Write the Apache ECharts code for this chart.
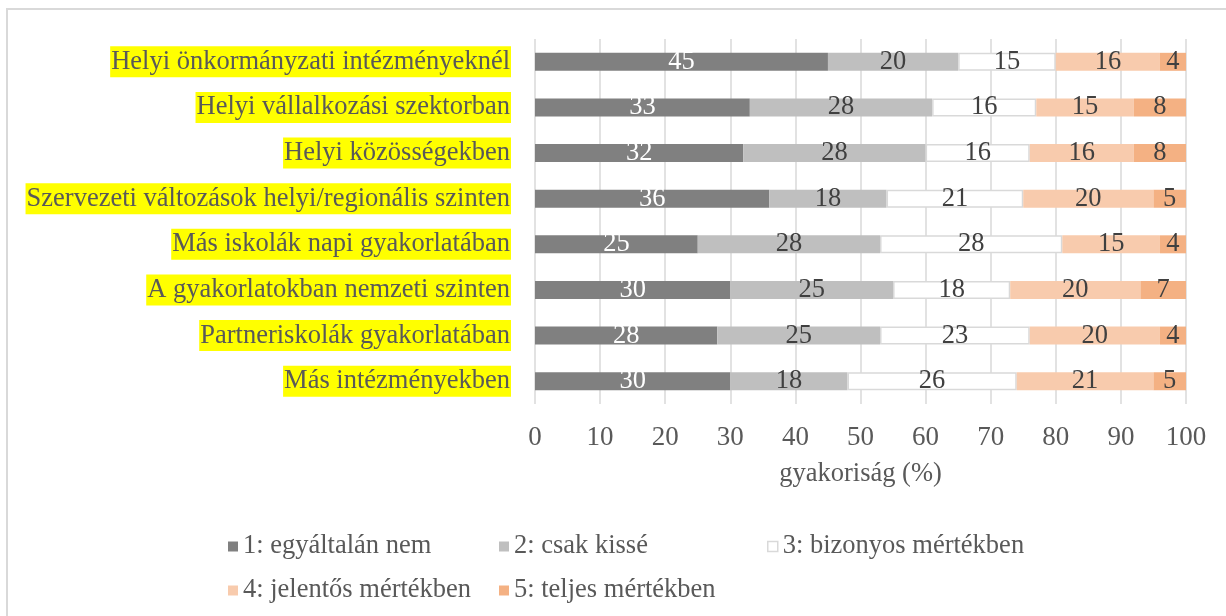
<!DOCTYPE html>
<html>
<head>
<meta charset="utf-8">
<script src="https://cdn.jsdelivr.net/npm/echarts@6/dist/echarts.min.js"></script>
<style>
  html, body { margin: 0; padding: 0; background: #fff; }
  #main { width: 1226px; height: 616px; }
</style>
</head>
<body>
<div id="main"></div>
<script>
// kategóriák (fentről lefelé)
var categories = [
  'Helyi önkormányzati intézményeknél',
  'Helyi vállalkozási szektorban',
  'Helyi közösségekben',
  'Szervezeti változások helyi/regionális szinten',
  'Más iskolák napi gyakorlatában',
  'A gyakorlatokban nemzeti szinten',
  'Partneriskolák gyakorlatában',
  'Más intézményekben'
]
var seriesNames = [
  '1: egyáltalán nem',
  '2: csak kissé',
  '3: bizonyos mértékben',
  '4: jelentős mértékben',
  '5: teljes mértékben'
]
var s1 = [45, 33, 32, 36, 25, 30, 28, 30]
var s2 = [20, 28, 28, 18, 28, 25, 25, 18]
var s3 = [15, 16, 16, 21, 28, 18, 23, 26]
var s4 = [16, 15, 16, 20, 15, 20, 20, 21]
var s5 = [4, 8, 8, 5, 4, 7, 4, 5]
var xTicks = [0, 10, 20, 30, 40, 50, 60, 70, 80, 90, 100]

var font = '"Liberation Serif", "Times New Roman", serif'
var fs = 26.5
var colors = ['#808080', '#bfbfbf', '#ffffff', '#f8cbad', '#f4b183']
var values = [s1, s2, s3, s4, s5]

var myChart = echarts.init(document.getElementById('main'))

var series = values.map(function (d, i) {
  return {
    name: seriesNames[i],
    type: 'bar',
    stack: 'total',
    barWidth: 18,
    data: d,
    itemStyle: {
      color: colors[i],
      borderColor: i === 2 ? '#d9d9d9' : colors[i],
      borderWidth: i === 2 ? 1.5 : 0
    },
    label: {
      show: true,
      position: 'inside',
      fontFamily: font,
      fontSize: fs,
      color: i === 0 ? '#ffffff' : '#404040'
    },
    emphasis: { disabled: true }
  }
})

// legend elemek pozíciói (két sor)
var legendPos = [[223, 528], [494, 528], [762, 528], [223, 572], [494, 572]]
var legends = seriesNames.map(function (n, i) {
  return {
    data: [{ name: n, itemStyle: i === 2 ? { color: '#fff', borderColor: '#d9d9d9', borderWidth: 1.5 } : {} }],
    left: legendPos[i][0],
    top: legendPos[i][1],
    itemWidth: 10,
    itemHeight: 10,
    icon: 'rect',
    itemGap: 4,
    textStyle: { fontFamily: font, fontSize: fs, color: '#595959' },
    selectedMode: false
  }
})

var option = {
  animation: false,
  color: colors,
  textStyle: { fontFamily: font },
  graphic: [{
    type: 'rect',
    shape: { x: 7, y: 9, width: 1240, height: 700 },
    style: { fill: 'none', stroke: '#d9d9d9', lineWidth: 2 },
    silent: true
  }],
  grid: {
    left: 535,
    right: 40,
    top: 39,
    bottom: 212
  },
  legend: legends,
  xAxis: {
    type: 'value',
    min: 0,
    max: 100,
    interval: 10,
    name: 'gyakoriság (%)',
    nameLocation: 'middle',
    nameGap: 57,
    nameTextStyle: { fontFamily: font, fontSize: fs, color: '#595959' },
    axisLine: { show: false },
    axisTick: { show: false },
    splitLine: { show: true, lineStyle: { color: '#d9d9d9', width: 1.5 } },
    axisLabel: {
      fontFamily: font,
      fontSize: 27,
      color: '#595959',
      margin: 20,
      formatter: function (v) { return xTicks.indexOf(v) >= 0 ? String(v) : '' }
    }
  },
  yAxis: {
    type: 'category',
    data: categories,
    inverse: true,
    axisLine: { show: false },
    axisTick: { show: false },
    axisLabel: {
      fontFamily: font,
      fontSize: fs,
      color: '#595959',
      backgroundColor: '#ffff00',
      lineHeight: 31,
      padding: [0, 1, 0, 1],
      margin: 24
    }
  },
  series: series
}

myChart.setOption(option)
</script>
</body>
</html>
